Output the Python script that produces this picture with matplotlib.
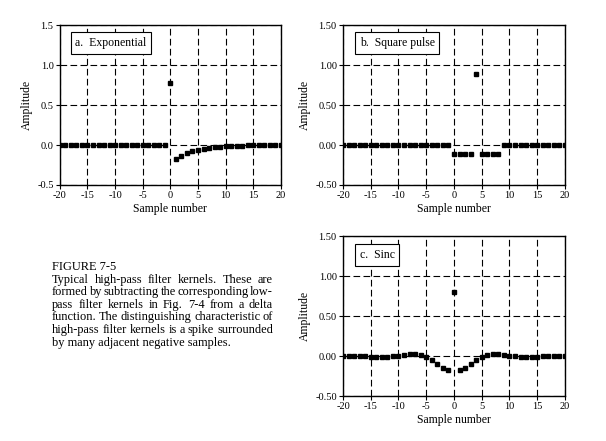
import numpy as np
import matplotlib.pyplot as plt

plt.rcParams['font.family'] = ['Liberation Serif', 'DejaVu Serif']
plt.rcParams['axes.unicode_minus'] = False

n = np.arange(-20, 21)

# a. exponential: spike at 0, decaying negative tail
exp_vals = [0.0] * 20 + [0.77, -0.18, -0.14, -0.105, -0.08, -0.065, -0.05, -0.037,
                         -0.028, -0.024, -0.015, -0.012, -0.01, -0.008, -0.006,
                         -0.002, 0.0, 0.0, 0.0, 0.0, 0.0]

# b. square pulse: 9 point moving average subtracted from a delta at sample 4
sq_vals = [0.0] * 20 + [-0.111, -0.111, -0.111, -0.111, 0.889, -0.111, -0.111, -0.111,
                        -0.111] + [0.0] * 12

# c. windowed sinc
sinc_right = [-0.18, -0.15, -0.10, -0.05, -0.015, 0.018, 0.025, 0.022, 0.012, 0.003,
              -0.005, -0.01, -0.012, -0.01, -0.008, -0.004, -0.002, 0.0, 0.0, 0.0]
sinc_vals = sinc_right[::-1] + [0.80] + sinc_right

panels = [
    ('a.  Exponential', exp_vals, [0.0988, 0.5805, 0.3647, 0.3628], '%.1f', (0.07, 0.925)),
    ('b.  Square pulse', sq_vals, [0.566, 0.5805, 0.3663, 0.3628], '%.2f', (0.075, 0.925)),
    ('c.  Sinc', sinc_vals, [0.566, 0.102, 0.3663, 0.3628], '%.2f', (0.075, 0.92)),
]

caption_lines = [
    "FIGURE 7-5",
    "Typical high-pass filter kernels.  These are",
    "formed by subtracting the corresponding low-",
    "pass filter kernels in Fig. 7-4 from a delta",
    "function. The distinguishing characteristic of",
    "high-pass filter kernels is a spike surrounded",
    "by many adjacent negative samples.",
]

W, H = 606, 441
fig = plt.figure(figsize=(W / 100, H / 100), dpi=100)

for title, vals, pos, fmt, tpos in panels:
    ax = fig.add_axes(pos)
    ax.plot(n, vals, 's', color='black', markersize=3.4, zorder=3)
    ax.set_xlim(-20, 20)
    ax.set_ylim(-0.5, 1.5)
    ax.set_xticks(np.arange(-20, 21, 5))
    ax.set_yticks(np.arange(-0.5, 1.51, 0.5))
    ax.yaxis.set_major_formatter(plt.FormatStrFormatter(fmt))
    ax.grid(True, color='black', linestyle=(0, (6, 3)), linewidth=0.8)
    ax.tick_params(labelsize=7.5, length=3, width=0.8, direction='out', pad=1.5)
    for s in ax.spines.values():
        s.set_linewidth(1.0)
    ax.set_xlabel('Sample number', fontsize=8.5, labelpad=2)
    ax.set_ylabel('Amplitude', fontsize=8.5, labelpad=3)
    ax.text(tpos[0], tpos[1], title, transform=ax.transAxes, fontsize=8.5,
            va='top', ha='left',
            bbox=dict(boxstyle='square,pad=0.4', facecolor='white', edgecolor='black',
                      linewidth=0.8), zorder=5)

# caption, justified between x0 and x1 like the book layout
renderer = fig.canvas.get_renderer()
x0, x1 = 52, 273
top, step = 261, 12.6
cap_fs = 8.9
for i, line in enumerate(caption_lines):
    y = 1 - (top + i * step) / H
    words = line.split()
    if i == 0 or i == len(caption_lines) - 1 or len(words) < 2:
        fig.text(x0 / W, y, line, fontsize=cap_fs, va='top', ha='left')
        continue
    widths = []
    for w in words:
        t = fig.text(0, 0, w, fontsize=cap_fs)
        widths.append(t.get_window_extent(renderer).width)
        t.remove()
    gap = (x1 - x0 - sum(widths)) / (len(words) - 1)
    x = x0
    for w, wd in zip(words, widths):
        fig.text(x / W, y, w, fontsize=cap_fs, va='top', ha='left')
        x += wd + gap

fig.savefig('out.png', dpi=100)
